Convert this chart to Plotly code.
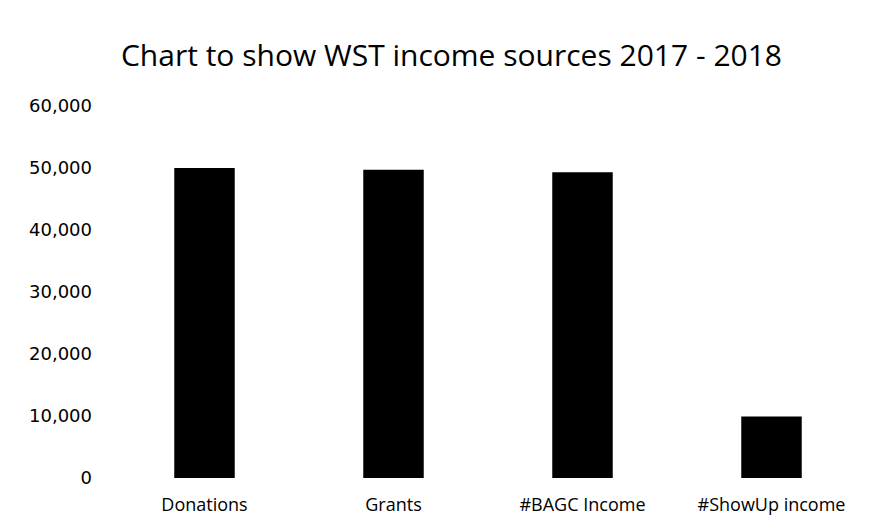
import plotly.graph_objects as go

categories = ["Donations", "Grants", "#BAGC Income", "#ShowUp income"]
values = [50000, 49700, 49300, 9900]
tick_vals = [0, 10000, 20000, 30000, 40000, 50000, 60000]
tick_text = ["0", "10,000", "20,000", "30,000", "40,000", "50,000", "60,000"]

fig = go.Figure(go.Bar(x=categories, y=values, marker=dict(color="black", line=dict(width=0)), width=0.32))

fig.update_layout(
    width=882, height=530,
    margin=dict(l=110, r=16, t=106, b=52),
    paper_bgcolor="white", plot_bgcolor="white",
    font=dict(family="Open Sans", color="black", size=18),
    title=dict(text="Chart to show WST income sources 2017 - 2018", x=451.5 / 882, xanchor="center",
               y=1 - 55 / 530, yanchor="middle", font=dict(size=30, family="Open Sans", color="black")),
    showlegend=False,
)
fig.update_yaxes(range=[0, 60000], tickvals=tick_vals, ticktext=tick_text, showgrid=False,
                 zeroline=False, showline=False, ticks="", ticklabelstandoff=17,
                 tickfont=dict(size=18, family="DejaVu Sans"))
fig.update_xaxes(showgrid=False, showline=False, ticks="", ticklabelstandoff=14,
                 tickfont=dict(size=18, family="Open Sans"))

fig.write_html("out.html")
